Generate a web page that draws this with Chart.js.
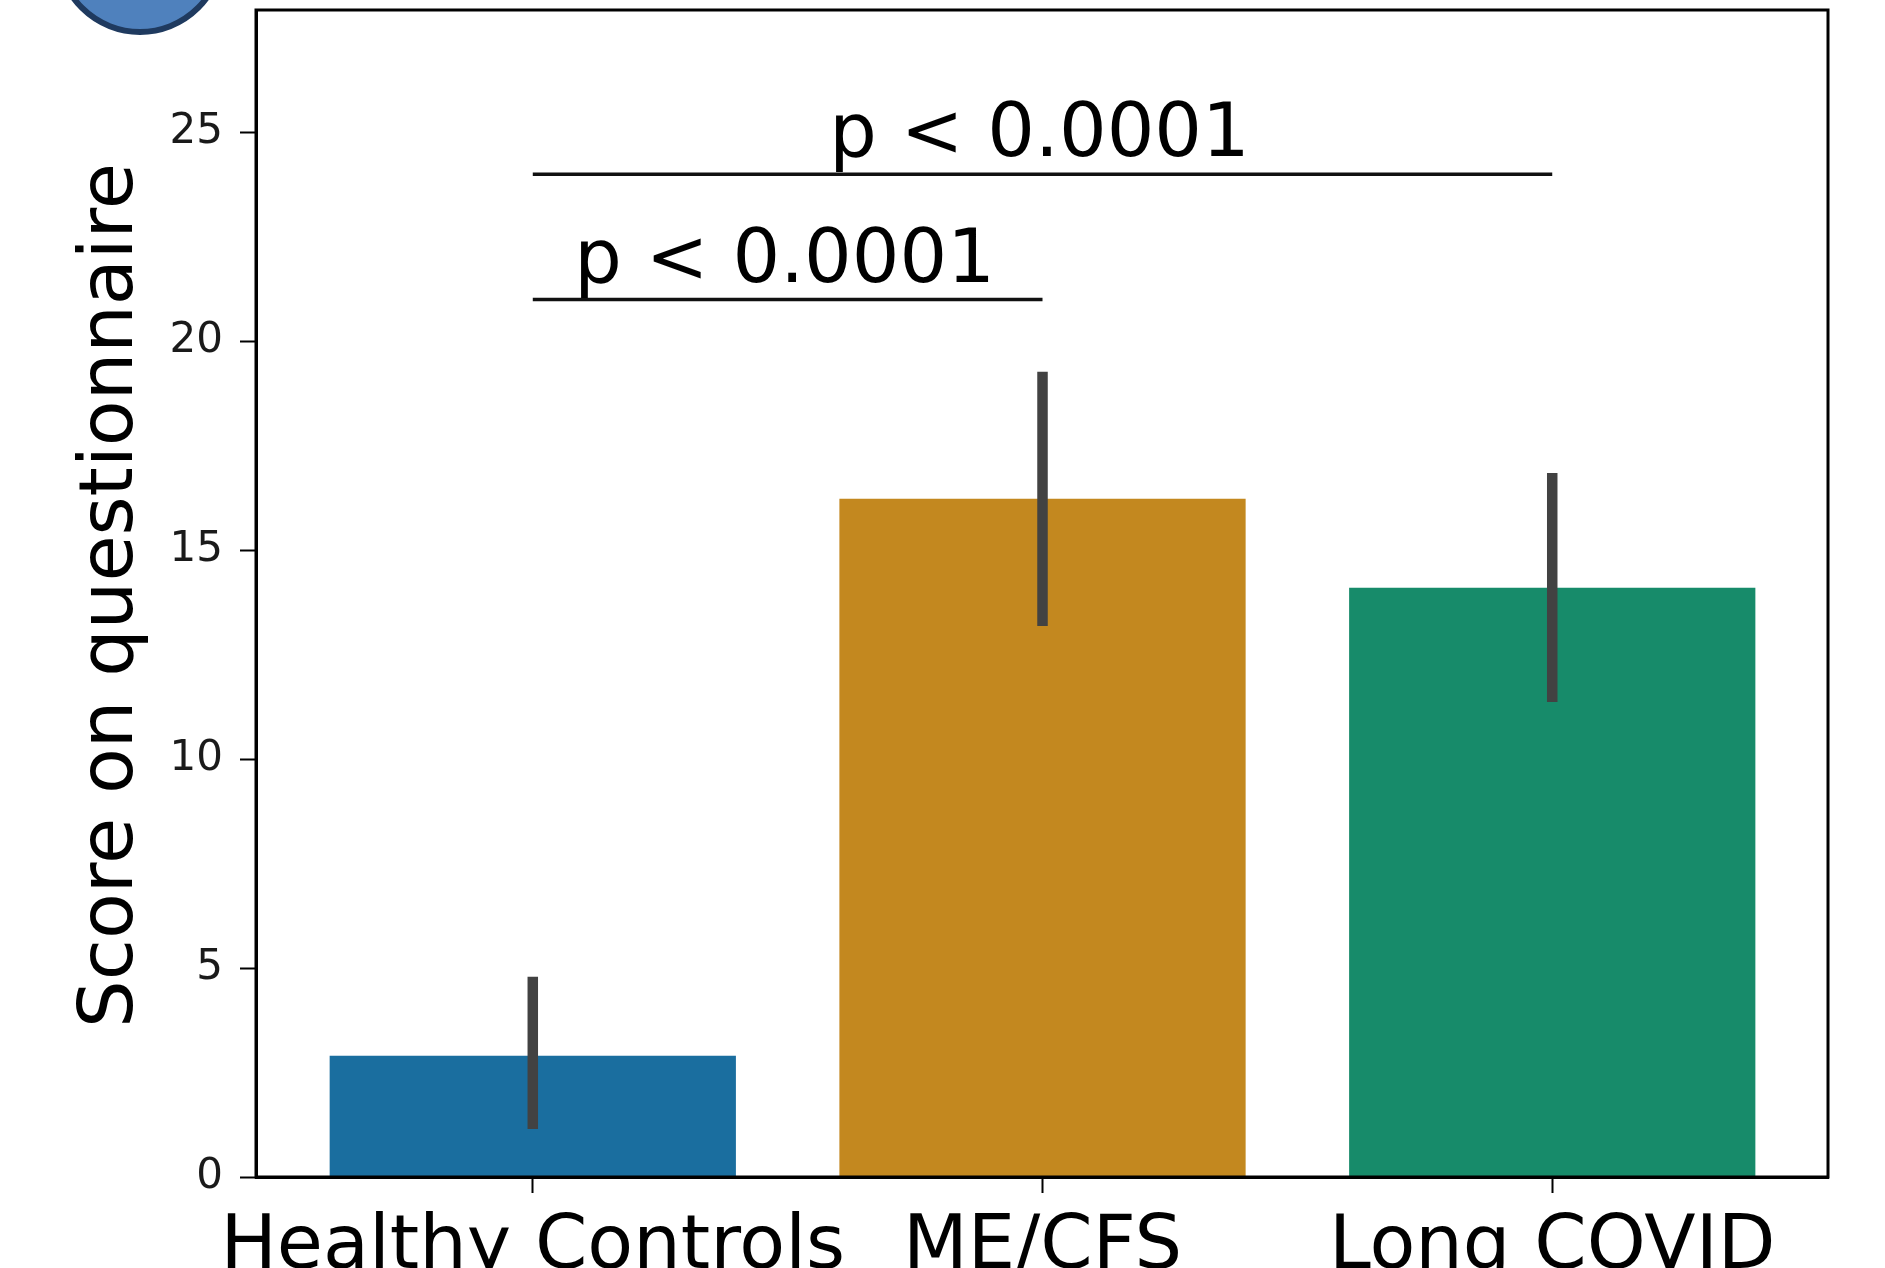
<!DOCTYPE html>
<html lang="en">
    <head>
        <meta charset="UTF-8" />
        <title>Score on questionnaire</title>
        <script src="https://cdn.jsdelivr.net/npm/chart.js"></script>
        <style>
            html, body {
                margin: 0;
                padding: 0;
                background: white;
            }
            #chart {
                display: block;
            }
        </style>
    </head>
    <body>
        <canvas id="chart" width="1885" height="1268"></canvas>
        <script>
            const categories = ["Healthy Controls", "ME/CFS", "Long COVID"];
            const means = [2.9, 16.23, 14.1];
            // 95% CI from the error bars
            const ciLow = [1.15, 13.19, 11.37];
            const ciHigh = [4.79, 19.27, 16.85];
            const barColors = ["#1a6e9f", "#c3881f", "#178b6a"];

            // significance brackets
            const bracketFrom = [0, 0];
            const bracketTo = [2, 1];
            const bracketY = [24, 21];
            const bracketText = ["p < 0.0001", "p < 0.0001"];

            const yTitle = "Score on questionnaire";
            const FONT = "'DejaVu Sans', sans-serif";

            const extras = {
                id: "extras",
                afterDatasetsDraw(chart) {
                    const ctx = chart.ctx;
                    const x = chart.scales.x;
                    const y = chart.scales.y;
                    ctx.save();
                    // error bars
                    ctx.strokeStyle = "#424242";
                    ctx.lineWidth = 10.5;
                    ctx.lineCap = "butt";
                    for (let i = 0; i < means.length; i++) {
                        const px = x.getPixelForValue(i);
                        ctx.beginPath();
                        ctx.moveTo(px, y.getPixelForValue(ciLow[i]));
                        ctx.lineTo(px, y.getPixelForValue(ciHigh[i]));
                        ctx.stroke();
                    }
                    // brackets + p values
                    ctx.strokeStyle = "#111";
                    ctx.lineWidth = 3.5;
                    ctx.fillStyle = "#000";
                    ctx.font = "75px " + FONT;
                    ctx.textAlign = "center";
                    ctx.textBaseline = "alphabetic";
                    for (let i = 0; i < bracketY.length; i++) {
                        const x0 = x.getPixelForValue(bracketFrom[i]);
                        const x1 = x.getPixelForValue(bracketTo[i]);
                        const py = y.getPixelForValue(bracketY[i]);
                        ctx.beginPath();
                        ctx.moveTo(x0, py);
                        ctx.lineTo(x1, py);
                        ctx.stroke();
                        ctx.fillText(bracketText[i], (x0 + x1) / 2 - 3, py - 18);
                    }
                    ctx.restore();
                },
                afterDraw(chart) {
                    const ctx = chart.ctx;
                    const a = chart.chartArea;
                    ctx.save();
                    // frame like matplotlib spines
                    ctx.strokeStyle = "#000";
                    ctx.lineWidth = 3;
                    ctx.strokeRect(a.left, a.top, a.right - a.left, a.bottom - a.top);

                    // y axis title
                    ctx.fillStyle = "#000";
                    ctx.font = "75px " + FONT;
                    ctx.textAlign = "center";
                    ctx.textBaseline = "alphabetic";
                    ctx.translate(132, (a.top + a.bottom) / 2 + 2);
                    ctx.rotate(-Math.PI / 2);
                    ctx.fillText(yTitle, 0, 0);
                    ctx.restore();

                    // panel marker circle, cut by the top edge
                    ctx.save();
                    ctx.beginPath();
                    ctx.arc(140, -50, 82, 0, Math.PI * 2);
                    ctx.fillStyle = "#4f81bd";
                    ctx.fill();
                    ctx.lineWidth = 6;
                    ctx.strokeStyle = "#1f3a5f";
                    ctx.stroke();
                    ctx.restore();
                },
            };

            new Chart("chart", {
                type: "bar",
                data: {
                    datasets: [
                        {
                            data: means.map((v, i) => ({ x: i, y: v })),
                            backgroundColor: barColors,
                            borderWidth: 0,
                            categoryPercentage: 1,
                            barPercentage: 0.797,
                        },
                    ],
                },
                options: {
                    responsive: false,
                    animation: false,
                    events: [],
                    layout: {
                        padding: { left: 0, right: 57, top: 10, bottom: 0 },
                    },
                    plugins: {
                        legend: { display: false },
                        tooltip: { enabled: false },
                    },
                    scales: {
                        x: {
                            type: "linear",
                            offset: false,
                            min: -0.543,
                            max: 2.541,
                            afterFit: (s) => {
                                s.height = 91;
                                s.paddingLeft = 0;
                                s.paddingRight = 0;
                            },
                            border: { display: true, color: "#000", width: 3 },
                            grid: {
                                offset: false,
                                drawOnChartArea: false,
                                drawTicks: true,
                                tickLength: 16,
                                tickWidth: 2,
                                tickColor: "#000",
                            },
                            ticks: {
                                stepSize: 1,
                                includeBounds: false,
                                autoSkip: false,
                                maxRotation: 0,
                                minRotation: 0,
                                padding: 11,
                                color: "#000",
                                font: { family: FONT, size: 75 },
                                callback: (v) => categories[v] ?? "",
                            },
                        },
                        y: {
                            min: 0,
                            max: 27.93,
                            afterFit: (s) => {
                                s.width = 256;
                                s.paddingTop = 0;
                                s.paddingBottom = 0;
                            },
                            border: { display: true, color: "#000", width: 3 },
                            grid: {
                                drawOnChartArea: false,
                                drawTicks: true,
                                tickLength: 16,
                                tickWidth: 2,
                                tickColor: "#000",
                            },
                            ticks: {
                                stepSize: 5,
                                includeBounds: false,
                                padding: 17,
                                color: "#1a1a1a",
                                font: { family: FONT, size: 42 },
                            },
                        },
                    },
                },
                plugins: [extras],
            });
        </script>
    </body>
</html>
